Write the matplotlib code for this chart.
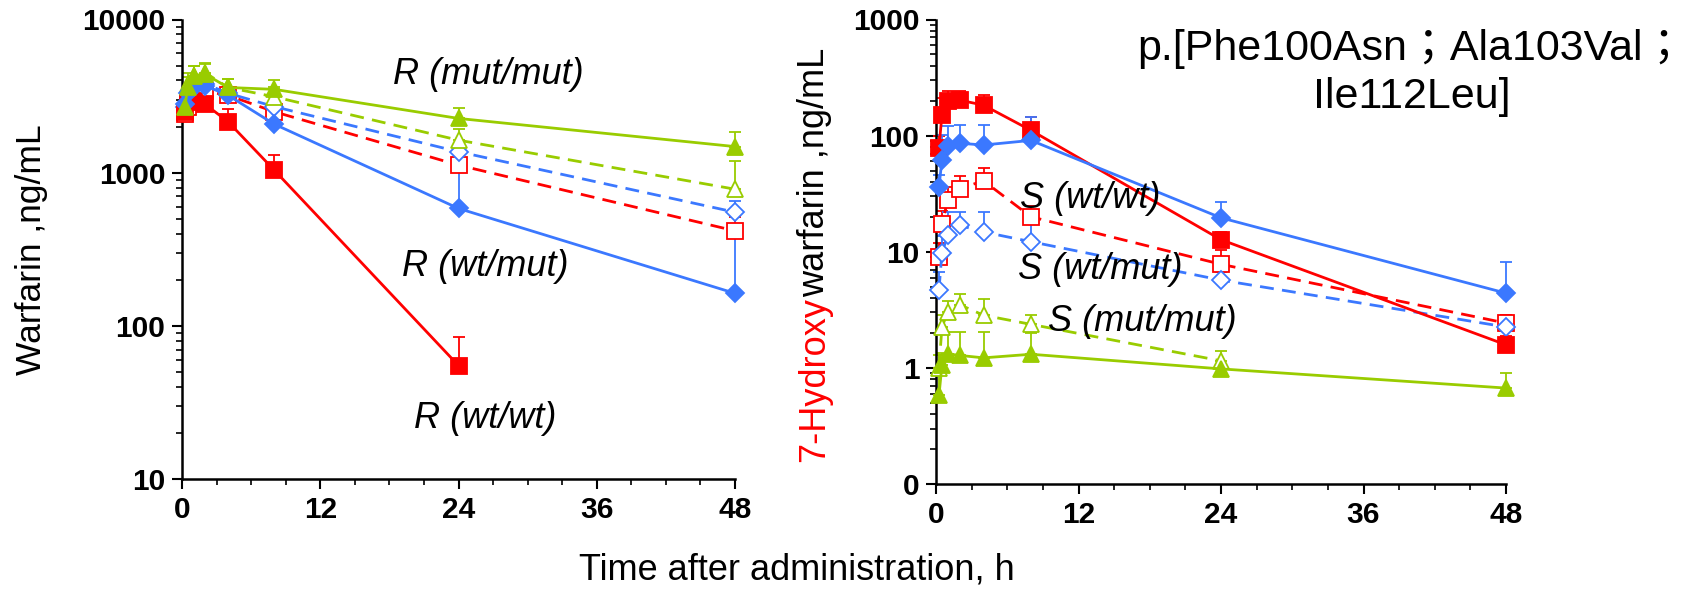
import numpy as np
import matplotlib
matplotlib.use("Agg")
import matplotlib.pyplot as plt
from matplotlib.ticker import FixedLocator, LogLocator, NullFormatter, FixedFormatter, MultipleLocator

# Sampling times (h)
times = [0.25, 0.5, 1, 2, 4, 8, 24, 48]

# Warfarin plasma concentrations (ng/mL), mean and upper SD
r_wt_wt = [2500, 2900, 2950, 2800, 2150, 1040, 55, np.nan]
r_wt_wt_sd = [300, 350, 350, 350, 450, 270, 30, np.nan]
r_wt_mut = [2800, 3300, 3600, 3700, 3200, 2075, 584, 163]
r_wt_mut_sd = [300, 400, 350, 400, 300, 300, 420, 237]
r_mut_mut = [2700, 3600, 4300, 4400, 3600, 3500, 2260, 1480]
r_mut_mut_sd = [500, 600, 700, 700, 500, 500, 370, 356]
s_wt_wt = [2400, 2700, 3100, 3400, 3200, 2500, 1120, 417]
s_wt_wt_sd = [300, 300, 350, 350, 300, 300, 200, 100]
s_wt_mut = [2700, 2900, 3600, 3800, 3300, 2700, 1370, 552]
s_wt_mut_sd = [300, 400, 400, 400, 300, 300, 200, 100]
s_mut_mut = [2600, 3800, 4300, 4500, 3600, 3130, 1630, 780]
s_mut_mut_sd = [500, 700, 700, 700, 500, 500, 300, 410]

# 7-Hydroxywarfarin plasma concentrations (ng/mL), mean and upper SD
oh_r_wt_wt = [79, 150, 200, 202, 183, 111, 12.7, 1.58]
oh_r_wt_wt_sd = [20, 60, 40, 40, 40, 35, 2, 0.3]
oh_r_wt_mut = [36, 62, 81, 86, 83, 91, 19.6, 4.4]
oh_r_wt_mut_sd = [10, 40, 40, 37, 40, 55, 7, 3.7]
oh_r_mut_mut = [0.58, 1.05, 1.32, 1.28, 1.22, 1.31, 0.98, 0.67]
oh_r_mut_mut_sd = [0.35, 0.3, 0.7, 0.75, 0.8, 0.7, 0.1, 0.23]
oh_s_wt_wt = [9.0, 17.5, 27.8, 35, 40.8, 20, 7.8, 2.43]
oh_s_wt_wt_sd = [3, 5, 8, 10, 12, 5, 2.5, 0.4]
oh_s_wt_mut = [4.7, 9.8, 13.9, 16.9, 14.8, 12.2, 5.7, 2.25]
oh_s_wt_mut_sd = [2, 4, 8, 5, 7, 5, 1, 0.3]
oh_s_mut_mut = [1.0, 2.25, 3.03, 3.5, 2.84, 2.37, 1.15, np.nan]
oh_s_mut_mut_sd = [0.3, 0.6, 0.75, 0.8, 1.1, 0.5, 0.25, np.nan]

x_ticks = [0, 12, 24, 36, 48]
left_yticks = [10, 100, 1000, 10000]
left_ylabels = ["10", "100", "1000", "10000"]
right_yticks = [0.1, 1, 10, 100, 1000]
right_ylabels = ["0", "1", "10", "100", "1000"]

RED = "#FF0000"
BLUE = "#3B78FF"
GREEN = "#99CC00"

TICK_FONT = dict(family="Liberation Sans", weight="bold", size=21.5)

fig = plt.figure(figsize=(17.02, 5.90), dpi=100)
ax_l = fig.add_axes([182 / 1702, 1 - 479 / 590, (735 - 182) / 1702, (479 - 19.5) / 590])
ax_r = fig.add_axes([936 / 1702, 1 - 484 / 590, (1506 - 936) / 1702, (484 - 19.5) / 590])


def draw_series(ax, y, sd, color, marker, ms, filled, dashed):
    t = np.asarray(times, float)
    y = np.asarray(y, float)
    sd = np.asarray(sd, float)
    ax.errorbar(t, y, yerr=[np.zeros_like(sd), sd], fmt="none", ecolor=color,
                elinewidth=1.3, capsize=4, capthick=1.3, clip_on=False, zorder=2)
    ax.plot(t, y, color=color, lw=2.0, ls=(0, (5, 3)) if dashed else "-",
            marker=marker, ms=ms, mfc=color if filled else "white",
            mec=color, mew=1.3, clip_on=False, zorder=3)


def style_axis(ax, yticks, ylabels, ylim):
    ax.set_yscale("log")
    ax.set_xlim(0, 48)
    ax.set_ylim(*ylim)
    for s in ("top", "right"):
        ax.spines[s].set_visible(False)
    for s in ("left", "bottom"):
        ax.spines[s].set_linewidth(1.8)
    ax.xaxis.set_major_locator(FixedLocator(x_ticks))
    ax.xaxis.set_minor_locator(MultipleLocator(3))
    ax.yaxis.set_major_locator(FixedLocator(yticks))
    ax.yaxis.set_major_formatter(FixedFormatter(ylabels))
    ax.yaxis.set_minor_locator(LogLocator(base=10, subs=np.arange(2, 10)))
    ax.yaxis.set_minor_formatter(NullFormatter())
    ax.tick_params(which="major", direction="out", length=7, width=1.5, pad=5)
    ax.tick_params(which="minor", direction="out", length=4.5, width=1.2)
    ax.tick_params(axis="x", which="major", pad=5)
    ax.set_yticklabels(ylabels, **TICK_FONT)
    ax.set_xticklabels([str(v) for v in x_ticks], **TICK_FONT)


# Warfarin panel
draw_series(ax_l, s_wt_wt, s_wt_wt_sd, RED, "s", 11, False, True)
draw_series(ax_l, s_wt_mut, s_wt_mut_sd, BLUE, "D", 9, False, True)
draw_series(ax_l, s_mut_mut, s_mut_mut_sd, GREEN, "^", 12, False, True)
draw_series(ax_l, r_wt_wt, r_wt_wt_sd, RED, "s", 11, True, False)
draw_series(ax_l, r_wt_mut, r_wt_mut_sd, BLUE, "D", 9, True, False)
draw_series(ax_l, r_mut_mut, r_mut_mut_sd, GREEN, "^", 12, True, False)
style_axis(ax_l, left_yticks, left_ylabels, (10, 10000))

# 7-Hydroxywarfarin panel
draw_series(ax_r, oh_s_wt_wt, oh_s_wt_wt_sd, RED, "s", 11, False, True)
draw_series(ax_r, oh_s_wt_mut, oh_s_wt_mut_sd, BLUE, "D", 9, False, True)
draw_series(ax_r, oh_s_mut_mut, oh_s_mut_mut_sd, GREEN, "^", 12, False, True)
draw_series(ax_r, oh_r_wt_wt, oh_r_wt_wt_sd, RED, "s", 11, True, False)
draw_series(ax_r, oh_r_wt_mut, oh_r_wt_mut_sd, BLUE, "D", 9, True, False)
draw_series(ax_r, oh_r_mut_mut, oh_r_mut_mut_sd, GREEN, "^", 12, True, False)
style_axis(ax_r, right_yticks, right_ylabels, (0.1, 1000))

# Genotype labels
lab_kw = dict(fontsize=26, style="italic", family="Liberation Sans", ha="center", va="center")
ax_l.text(26.6, 4400, "R (mut/mut)", **lab_kw)
ax_l.text(26.3, 243, "R (wt/mut)", **lab_kw)
ax_l.text(26.3, 25, "R (wt/wt)", **lab_kw)
ax_r.text(13.0, 29, "S (wt/wt)", **lab_kw)
ax_r.text(13.8, 7.1, "S (wt/mut)", **lab_kw)
ax_r.text(17.4, 2.5, "S (mut/mut)", **lab_kw)

# Axis titles
fig.text(32 / 1702, (590 - 250) / 590, "Warfarin ,ng/mL", rotation=90,
         fontsize=25.5, family="Liberation Sans", ha="center", va="center")

fig.canvas.draw()
renderer = fig.canvas.get_renderer()
y0 = (590 - 462) / 590
t1 = fig.text(815 / 1702, y0, "7-Hydroxy", rotation=90, color=RED,
              fontsize=26, family="Liberation Sans", ha="center", va="bottom")
bb = t1.get_window_extent(renderer)
y1 = fig.transFigure.inverted().transform((0, bb.y1))[1]
fig.text(815 / 1702, y1, "warfarin ,ng/mL", rotation=90, color="black",
         fontsize=26, family="Liberation Sans", ha="center", va="bottom")

fig.text(797 / 1702, (590 - 570) / 590, "Time after administration, h",
         fontsize=26, family="Liberation Sans", ha="center", va="center")

fig.text(1412 / 1702, (590 - 73) / 590, "p.[Phe100Asn；Ala103Val；\nIle112Leu]",
         fontsize=31, family=["Liberation Sans", "Noto Sans CJK JP"],
         ha="center", va="center", multialignment="center", linespacing=1.25)

fig.savefig("out.png", dpi=100)
